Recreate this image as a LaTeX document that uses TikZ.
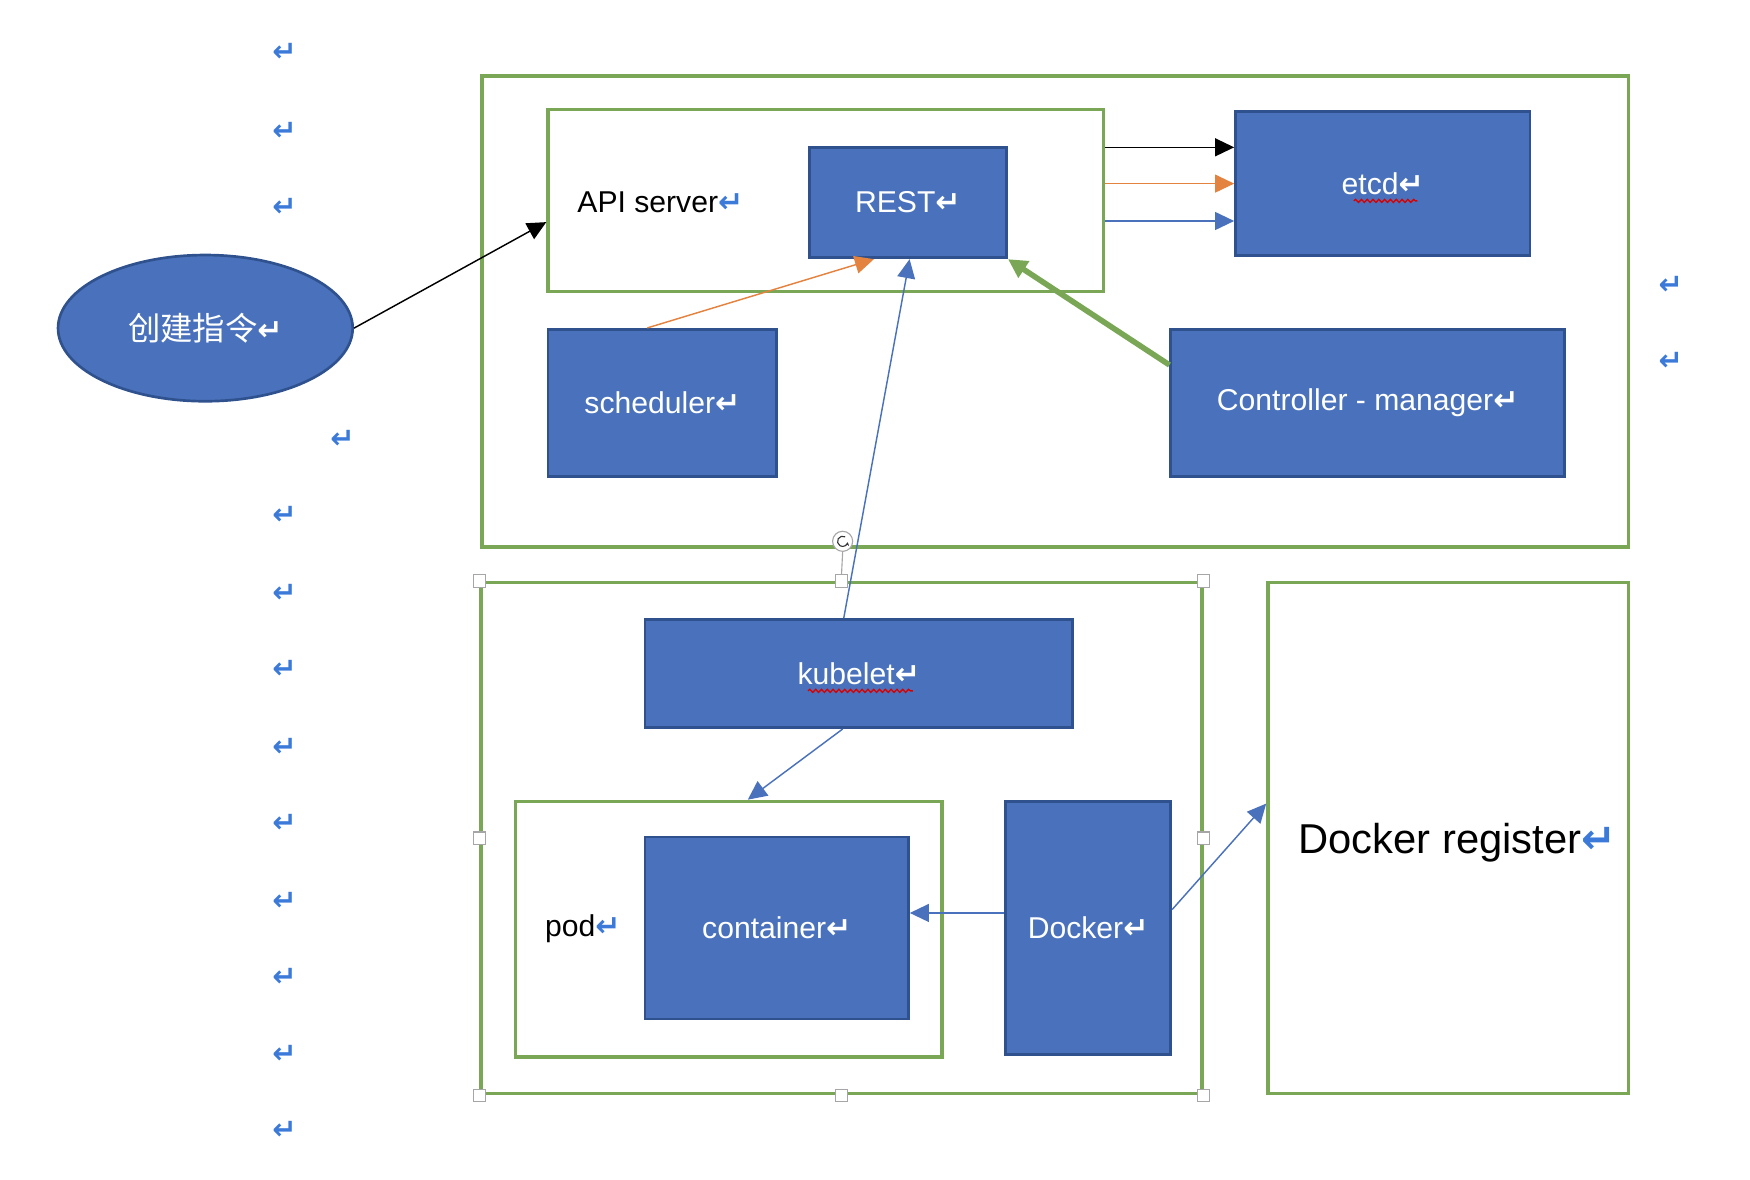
\documentclass[tikz,border=0pt]{standalone}
\usepackage{graphicx}
\usepackage{xcolor}
\usepackage{fontspec}
\setmainfont{Liberation Sans}
\newfontfamily\cjk{Noto Sans CJK SC}
\newfontfamily\symfont{DejaVu Sans}
\usepackage{tikz}
\usetikzlibrary{arrows.meta, positioning, shapes.geometric, decorations.pathmorphing}
\definecolor{boxblue}{HTML}{4A72BC}
\definecolor{boxedge}{HTML}{2F528F}
\definecolor{framegreen}{HTML}{7AA755}
\definecolor{lineorange}{HTML}{E3833F}
\definecolor{markblue}{HTML}{3B7AD9}
\newcommand{\retmark}{{\symfont\bfseries ↵}}
\newcommand{\retblue}{\textcolor{markblue}{\retmark}}

\begin{document}
\begin{tikzpicture}[
  x=0.5pt, y=-0.5pt,
  font=\fontsize{13.5}{16}\selectfont,
  box/.style={draw=boxedge, fill=boxblue, line width=1.2pt, text=white, inner sep=0pt},
  frame/.style={draw=framegreen, line width=1.5pt, inner sep=0pt},
  arrow/.style={-{Triangle[length=8.5pt,width=8pt]}, line width=0.65pt},
  pmark/.style={text=markblue, font=\symfont\bfseries\fontsize{13}{15}\selectfont, inner sep=0pt},
  handle/.style={draw=gray!70, fill=white, line width=0.5pt, minimum size=5.5pt, inner sep=0pt},
  squiggle/.style={draw=red!85!black, line width=0.6pt, decorate, decoration={snake, amplitude=0.7pt, segment length=2.6pt}}
]
\useasboundingbox (0,0) rectangle (1568,1057);

% Master frame
\node[frame, minimum width=513.5pt, minimum height=211pt] (master) at (945.5,279) {};
\node[frame, minimum width=249pt, minimum height=81.5pt] (api) at (740,179.5) {};
\node[anchor=west, inner sep=0pt] (apilabel) at (517,181) {API server\retblue};
\node[box, minimum width=88.5pt, minimum height=49.5pt] (rest) at (813.5,181.5) {REST\retmark};
\node[box, minimum width=132pt, minimum height=64.5pt] (etcd) at (1239,164.5) {etcd\retmark};
\node[box, minimum width=102.5pt, minimum height=66pt] (sched) at (593.5,361) {scheduler\retmark};
\node[box, minimum width=176.5pt, minimum height=66pt] (ctrl) at (1225.5,361) {Controller - manager\retmark};

% Command
\node[box, ellipse, minimum width=132pt, minimum height=65.5pt] (cmd) at (184,294) {{\cjk\fontsize{14.5}{17}\selectfont 创建指令}\retmark};

% Node frame
\node[frame, minimum width=323pt, minimum height=229pt] (worker) at (754,751) {};
\node[box, minimum width=191.5pt, minimum height=48.5pt] (kubelet) at (769.5,603.5) {kubelet\retmark};
\node[frame, minimum width=191pt, minimum height=114.5pt] (pod) at (653,832.5) {};
\node[anchor=west, inner sep=0pt] (podlabel) at (488,832) {pod\retblue};
\node[box, minimum width=118pt, minimum height=81.5pt] (container) at (696,831.5) {container\retmark};
\node[box, minimum width=74pt, minimum height=113.5pt] (docker) at (975,831.5) {Docker\retmark};
\node[frame, minimum width=161.5pt, minimum height=229pt] (registry) at (1297.5,751) {};
\node[font=\fontsize{18.7}{22}\selectfont, inner sep=0pt] (reglabel) at (1306,755) {Docker register\retblue};

% Spelling marks
\draw[squiggle] ([xshift=-13pt,yshift=-7.75pt]etcd.center) -- ([xshift=15.5pt,yshift=-7.75pt]etcd.center);
\draw[squiggle] ([xshift=-22.75pt,yshift=-7.75pt]kubelet.center) -- ([xshift=24.25pt,yshift=-7.75pt]kubelet.center);

% Connectors
\draw[arrow] (cmd.east) -- ([yshift=-9.75pt]api.west);
\draw[arrow] ([yshift=16.25pt]etcd.west -| api.east) -- ([yshift=16.25pt]etcd.west);
\draw[arrow, lineorange] (etcd.west -| api.east) -- (etcd.west);
\draw[arrow, boxblue] ([yshift=-16.75pt]etcd.west -| api.east) -- ([yshift=-16.75pt]etcd.west);
\draw[arrow, lineorange] ([xshift=-6.75pt]sched.north) -- ([xshift=-15.25pt]rest.south);
\draw[arrow, boxblue] ([xshift=-6.75pt]kubelet.north) -- ([xshift=0.75pt]rest.south);
\draw[-{Triangle[length=8.5pt,width=8.5pt]}, framegreen, line width=2.5pt] ([yshift=17pt]ctrl.west) -- (rest.south east);
\draw[arrow, boxblue] ([xshift=-7.25pt]kubelet.south) -- ([xshift=8.5pt]pod.north);
\draw[arrow, boxblue] ([yshift=6.75pt]docker.west) -- ([yshift=6.75pt]docker.west -| container.east);
\draw[arrow, boxblue] ([yshift=8.25pt]docker.east) -- ([yshift=15.5pt]registry.west);

% Selection handles
\foreach \a in {north west, north, north east, west, east, south west, south, south east}
  \node[handle] (h-\a) at (worker.\a) {};
\node[circle, draw=gray!70, fill=white, line width=0.5pt, minimum size=9pt, inner sep=0pt] (rot) at (755,485) {};
\draw[gray!70, line width=0.5pt] (rot.south) -- (h-north.north);
\draw[gray!40!black, line width=0.5pt, -{Stealth[length=1.6pt,width=1.8pt]}] ([shift={(60:2.3pt)}]rot.center) arc[start angle=60, end angle=350, radius=2.3pt];

% Paragraph marks
\foreach \y in {47,118,186,462,532,600,670,738,808,876,945,1013}
  \node[pmark] (pm\y) at (255,\y) {↵};
\node[pmark] (pmmid) at (307,394) {↵};
\node[pmark] (pmr1) at (1497,256) {↵};
\node[pmark] (pmr2) at (1497,324) {↵};

\end{tikzpicture}
\end{document}
